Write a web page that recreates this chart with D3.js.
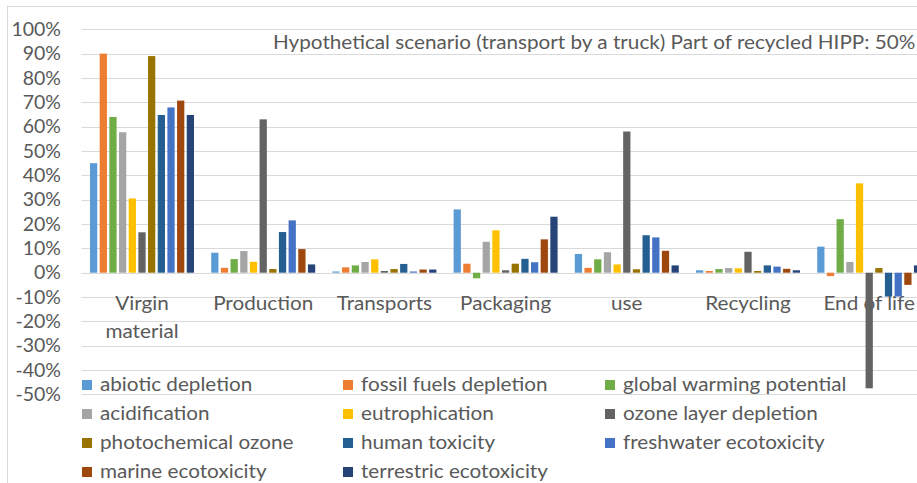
<!DOCTYPE html>
<html>
<head>
<meta charset="utf-8">
<script src="https://cdn.jsdelivr.net/npm/d3@7"></script>
<style>
  html, body { margin: 0; padding: 0; background: #fff; overflow: hidden; }
  text { font-family: Lato, "Open Sans", sans-serif; fill: #595959; }
</style>
</head>
<body>
<svg id="chart" width="917" height="483"></svg>
<script>
const categories = ["Virgin material", "Production", "Transports", "Packaging", "use", "Recycling", "End of life"];
const seriesNames = ["abiotic depletion", "fossil fuels depletion", "global warming potential", "acidification", "eutrophication", "ozone layer depletion", "photochemical ozone", "human toxicity", "freshwater ecotoxicity", "marine ecotoxicity", "terrestric ecotoxicity"];
const seriesColors = ["#5B9BD5", "#ED7D31", "#70AD47", "#A5A5A5", "#FFC000", "#636363", "#997300", "#255E91", "#4472C4", "#9E480E", "#264478"];
// values in percent, per series, one per category
const abioticDepletion = [45, 8.2, 0.5, 26, 7.7, 1, 10.7];
const fossilFuelsDepletion = [90, 2, 2.2, 3.7, 2, 0.7, -1.4];
const globalWarmingPotential = [64, 5.6, 3, -2.3, 5.5, 1.5, 22];
const acidification = [57.7, 8.9, 4.4, 12.7, 8.4, 1.9, 4.4];
const eutrophication = [30.5, 4.5, 5.5, 17.4, 3.4, 1.8, 36.7];
const ozoneLayerDepletion = [16.6, 63, 0.7, 1, 58, 8.6, -47.5];
const photochemicalOzone = [89, 1.5, 1.5, 3.7, 1.4, 0.7, 1.9];
const humanToxicity = [64.8, 16.7, 3.6, 5.7, 15.4, 3, -9.8];
const freshwaterEcotoxicity = [67.9, 21.5, 0.5, 4.3, 14.5, 2.5, -9.8];
const marineEcotoxicity = [70.7, 9.7, 1.3, 13.7, 9, 1.6, -5];
const terrestricEcotoxicity = [64.8, 3.4, 1.3, 23, 3, 1, 3];
const yTicks = [100, 90, 80, 70, 60, 50, 40, 30, 20, 10, 0, -10, -20, -30, -40, -50];
const titleText = "Hypothetical scenario (transport by a truck) Part of recycled HIPP: 50%";

const seriesValues = [abioticDepletion, fossilFuelsDepletion, globalWarmingPotential, acidification, eutrophication, ozoneLayerDepletion, photochemicalOzone, humanToxicity, freshwaterEcotoxicity, marineEcotoxicity, terrestricEcotoxicity];

const svg = d3.select("#chart");
const SX = 1.09;
function stretch(sel, sx) {
  sel.each(function () {
    const t = d3.select(this);
    const x = +t.attr("x") || 0, yy = +t.attr("y") || 0;
    t.attr("transform", `translate(${x},${yy}) scale(${sx},1) translate(${-x},${-yy})`);
  });
}

// chart border
svg.append("rect").attr("x", 7.5).attr("y", 6.5).attr("width", 1000).attr("height", 1000)
  .attr("fill", "none").attr("stroke", "#D9D9D9");

const plotLeft = 81.4, plotRight = 929.8;
const y = d3.scaleLinear().domain([-50, 100]).range([394.4, 29.3]);
const x0 = d3.scaleBand().domain(categories).range([plotLeft, plotRight]).paddingInner(0.142).paddingOuter(0.071);
const x1 = d3.scaleBand().domain(seriesNames).range([0, x0.bandwidth()]).paddingInner(0.25).paddingOuter(0);

// gridlines
svg.append("g").selectAll("line").data(yTicks).join("line")
  .attr("x1", plotLeft).attr("x2", 917)
  .attr("y1", d => Math.round(y(d)) + 0.5).attr("y2", d => Math.round(y(d)) + 0.5)
  .attr("stroke", "#D9D9D9").attr("stroke-width", 1);

// y axis labels
const yAxis = d3.axisLeft(y).tickValues(yTicks).tickFormat(d => d + "%").tickSize(0).tickPadding(0);
const gy = svg.append("g").attr("transform", "translate(61,0)").call(yAxis);
gy.select(".domain").remove();
gy.selectAll("text").style("font-size", "19.5px").attr("fill", "#595959").style("font-family", "Lato, sans-serif");

// title
const title = svg.append("text").attr("x", 273).attr("y", 49).attr("text-anchor", "start")
  .style("font-size", "19px").text(titleText);
stretch(title, SX);

// category labels
const catG = svg.append("g");
categories.forEach(c => {
  const words = c === "Virgin material" ? ["Virgin", "material"] : [c];
  const cx = x0(c) + x0.bandwidth() / 2;
  const t = catG.append("text").attr("text-anchor", "middle").style("font-size", "19px")
    .attr("x", cx).attr("y", 310);
  words.forEach((w, i) => {
    t.append("tspan").attr("x", cx).attr("dy", i === 0 ? 0 : 28).text(w);
  });
  stretch(t, SX);
});

// legend
const legendCols = [82, 343, 605];
const legendRows = [385, 414, 443, 472];
const lg = svg.append("g");
seriesNames.forEach((s, i) => {
  const cx = legendCols[i % 3], cy = legendRows[Math.floor(i / 3)];
  lg.append("rect").attr("x", cx).attr("y", cy - 5).attr("width", 10).attr("height", 10).attr("fill", seriesColors[i]);
  const t = lg.append("text").attr("x", cx + 18).attr("y", cy + 6).style("font-size", "19px").text(s);
  stretch(t, SX);
});

// bars
const barsG = svg.append("g");
seriesNames.forEach((s, si) => {
  barsG.append("g").selectAll("rect").data(seriesValues[si]).join("rect")
    .attr("x", (d, ci) => x0(categories[ci]) + x1(s))
    .attr("width", x1.bandwidth())
    .attr("y", d => y(Math.max(0, d)))
    .attr("height", d => Math.abs(y(d) - y(0)))
    .attr("fill", seriesColors[si]);
});
</script>
</body>
</html>
